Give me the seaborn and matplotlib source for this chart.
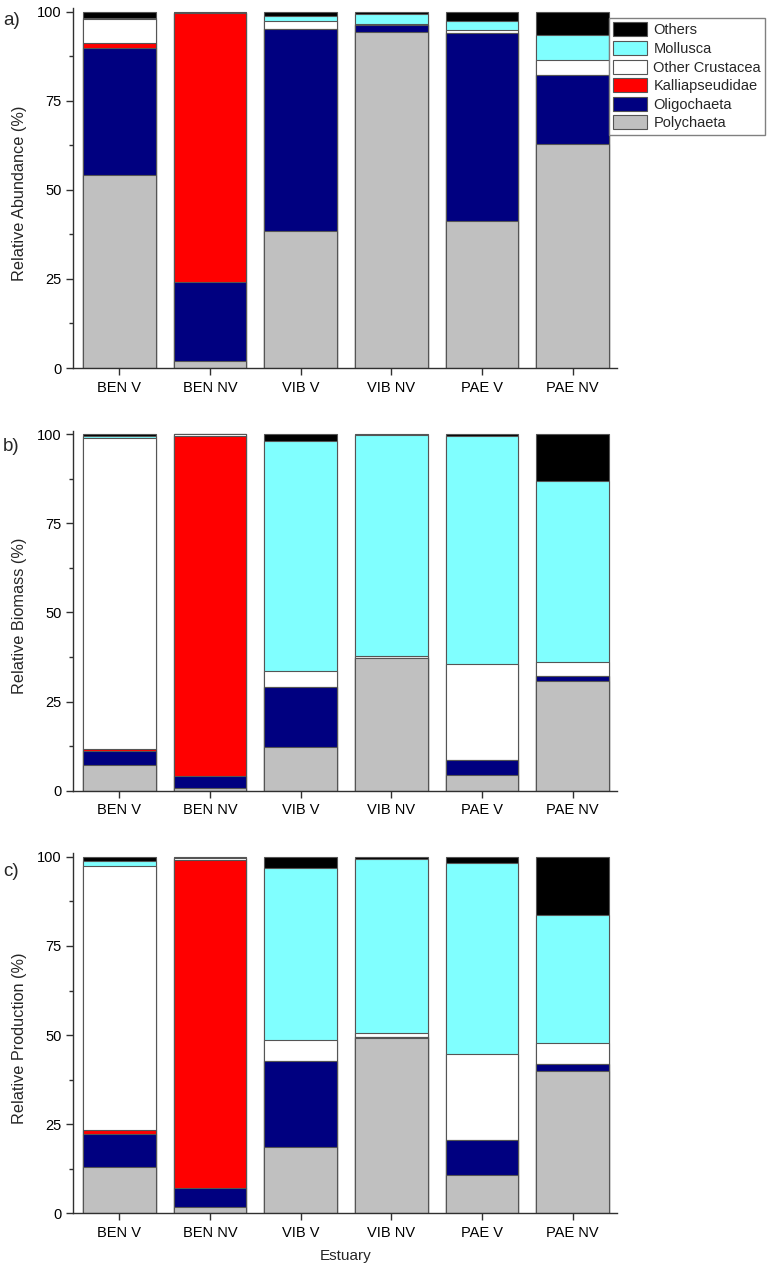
import numpy as np
import matplotlib
matplotlib.use("Agg")
import matplotlib.pyplot as plt
import seaborn as sns
from matplotlib.patches import Patch
from matplotlib.ticker import MultipleLocator

sites = ["BEN V", "BEN NV", "VIB V", "VIB NV", "PAE V", "PAE NV"]
groups = ["Polychaeta", "Oligochaeta", "Kalliapseudidae", "Other Crustacea", "Mollusca", "Others"]
colors = ["#c0c0c0", "#000080", "#ff0000", "#ffffff", "#80ffff", "#000000"]

# a) relative abundance (%)
abund_poly = [54.2, 1.9, 38.3, 94.4, 41.2, 62.8]
abund_olig = [35.5, 22.1, 56.9, 1.7, 52.8, 19.5]
abund_kall = [1.5, 75.7, 0.0, 0.0, 0.0, 0.0]
abund_ocru = [6.6, 0.0, 2.1, 0.4, 0.9, 4.0]
abund_moll = [0.3, 0.0, 1.4, 2.9, 2.4, 7.0]
abund_othr = [1.9, 0.3, 1.3, 0.6, 2.7, 6.7]

# b) relative biomass (%)
biom_poly = [7.3, 0.7, 12.4, 37.1, 4.5, 30.9]
biom_olig = [3.9, 3.4, 16.7, 0.2, 4.0, 1.4]
biom_kall = [0.5, 95.4, 0.0, 0.0, 0.0, 0.0]
biom_ocru = [87.3, 0.5, 4.4, 0.4, 27.0, 3.8]
biom_moll = [0.6, 0.0, 64.6, 62.0, 64.0, 50.8]
biom_othr = [0.4, 0.0, 1.9, 0.3, 0.5, 13.1]

# c) relative production (%)
prod_poly = [13.1, 1.9, 18.5, 49.2, 10.7, 39.8]
prod_olig = [9.1, 5.2, 24.2, 0.3, 10.0, 2.2]
prod_kall = [1.2, 92.0, 0.0, 0.0, 0.0, 0.0]
prod_ocru = [74.1, 0.5, 5.9, 1.0, 24.0, 5.8]
prod_moll = [1.2, 0.0, 48.3, 48.9, 53.6, 35.9]
prod_othr = [1.4, 0.4, 3.1, 0.6, 1.7, 16.3]

panels = [
    ("a)", "Relative Abundance (%)", [abund_poly, abund_olig, abund_kall, abund_ocru, abund_moll, abund_othr]),
    ("b)", "Relative Biomass (%)", [biom_poly, biom_olig, biom_kall, biom_ocru, biom_moll, biom_othr]),
    ("c)", "Relative Production (%)", [prod_poly, prod_olig, prod_kall, prod_ocru, prod_moll, prod_othr]),
]

sns.set_style("ticks")
plt.rcParams["font.family"] = ["Liberation Sans", "DejaVu Sans"]

W, H = 767, 1269
fig = plt.figure(figsize=(W / 100, H / 100), dpi=100)

zero_px = [368, 790.7, 1213.3]
label_px = [20.5, 447, 872]
edge = "#555555"
spine = "#303030"

for (tag, ylab, layers), z, ly in zip(panels, zero_px, label_px):
    ax = fig.add_axes([73 / W, 1 - z / H, 544 / W, 360 / H])
    cum = np.cumsum(np.array(layers), axis=0)
    # tallest stack first, lower groups painted over it
    for i in range(len(groups) - 1, -1, -1):
        sns.barplot(x=sites, y=cum[i], order=sites, color=colors[i], saturation=1,
                    width=0.8, edgecolor=edge, linewidth=0.8, ax=ax)
    ax.set_xlim(-0.51, 5.49)
    ax.set_ylim(0, 101)
    ax.set_yticks([0, 25, 50, 75, 100])
    ax.yaxis.set_minor_locator(MultipleLocator(12.5))
    ax.tick_params(axis="both", which="major", direction="out", length=5, width=1,
                   color=spine, labelcolor="black", labelsize=10.5)
    ax.tick_params(axis="y", which="minor", direction="out", length=3, width=1, color=spine)
    ax.tick_params(axis="x", pad=4)
    ax.tick_params(axis="y", pad=3)
    for s in ["top", "right"]:
        ax.spines[s].set_visible(False)
    for s in ["left", "bottom"]:
        ax.spines[s].set_color(spine)
        ax.spines[s].set_linewidth(1)
    ax.set_ylabel(ylab, fontsize=11.7)
    ax.yaxis.set_label_coords(-0.085, 0.485)
    ax.set_xlabel("")
    fig.text(3 / W, 1 - ly / H, tag, fontsize=13.5, va="center", ha="left")

fig.text(346 / W, 1 - 1256 / H, "Estuary", fontsize=11, ha="center", va="center")

handles = [Patch(facecolor=colors[i], edgecolor=edge, linewidth=0.8, label=groups[i])
           for i in range(len(groups) - 1, -1, -1)]
leg = fig.legend(handles=handles, loc="upper left", bbox_to_anchor=(609 / W, 1 - 18 / H),
                 fontsize=10.5, frameon=True, fancybox=False, framealpha=1,
                 handlelength=2.3, handleheight=1.1, labelspacing=0.25,
                 handletextpad=0.45, borderpad=0.3, borderaxespad=0)
leg.get_frame().set_edgecolor("#808080")
leg.get_frame().set_linewidth(1)

fig.savefig("out.png", dpi=100)
